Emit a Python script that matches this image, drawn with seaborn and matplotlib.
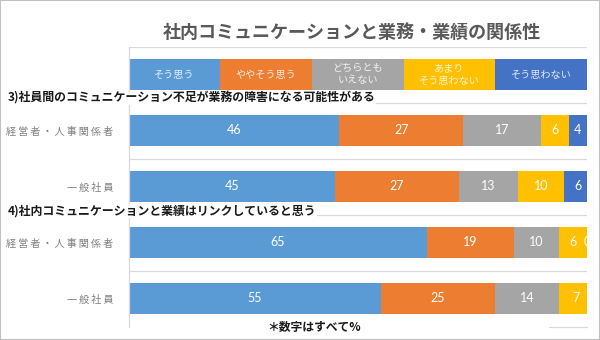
import matplotlib
matplotlib.use("Agg")
import matplotlib.pyplot as plt
import seaborn as sns
import pandas as pd
from matplotlib.patches import Rectangle

# ---------------- data ----------------
title = "社内コミュニケーションと業務・業績の関係性"
responses = ["そう思う", "ややそう思う", "どちらとも\nいえない", "あまり\nそう思わない", "そう思わない"]
colors = ["#5B9BD5", "#ED7D31", "#A5A5A5", "#FFC000", "#4472C4"]
row_ids = ["q3_mgmt", "q3_staff", "q4_mgmt", "q4_staff"]
row_labels = ["経営者・人事関係者", "一般社員", "経営者・人事関係者", "一般社員"]
sections = ["3)社員間のコミュニケーション不足が業務の障害になる可能性がある",
            "4)社内コミュニケーションと業績はリンクしていると思う"]
sou_omou = [46, 45, 65, 55]
yaya_sou_omou = [27, 27, 19, 25]
dochira_tomo = [17, 13, 10, 14]
amari = [6, 10, 6, 7]
sou_omowanai = [4, 6, 0, 0]
footnote = "＊数字はすべて%"

series = [sou_omou, yaya_sou_omou, dochira_tomo, amari, sou_omowanai]

# ---------------- figure ----------------
sns.set_theme(style="white")
plt.rcParams["font.family"] = ["Noto Sans CJK JP", "DejaVu Sans"]

W, H = 600, 340
fig = plt.figure(figsize=(W / 100, H / 100), dpi=100)
x0, x1 = 128.6, 587.0
y0, y1 = 46.5, 326.5
ax = fig.add_axes([x0 / W, 1 - y1 / H, (x1 - x0) / W, (y1 - y0) / H])

order = ["legend"] + row_ids
legend_w = 100 / len(responses)

rows = []
for r, rid in enumerate(order):
    if rid == "legend":
        vals = [legend_w] * len(responses)
    else:
        vals = [s[r - 1] for s in series]
    cum = 0
    for k, v in enumerate(vals):
        cum += v
        rows.append({"row": rid, "k": k, "val": v, "cum": cum})
df = pd.DataFrame(rows)

for k in range(len(responses) - 1, -1, -1):
    sub = df[df.k == k]
    sns.barplot(data=sub, x="cum", y="row", order=order, orient="h",
                color=colors[k], saturation=1, width=0.55, linewidth=0,
                errorbar=None, ax=ax)

ax.set_xlim(0, 100)
ax.set_ylim(len(order) - 0.5, -0.5)

# value labels and legend texts
for _, d in df.iterrows():
    yi = order.index(d.row)
    xc = d.cum - d.val / 2
    if d.row == "legend":
        ax.text(xc, yi, responses[int(d.k)], ha="center", va="center",
                color="white", alpha=0.85, fontsize=7.3, linespacing=1.25)
    else:
        ax.text(xc, yi, f"{int(d.val)}", ha="center", va="center",
                color="white", fontsize=9, family=["Lato", "DejaVu Sans"],
                clip_on=True)

# gridlines at row boundaries
grid_c = "#D9D9D9"
for b in range(len(order)):
    ax.axhline(b - 0.5, color=grid_c, lw=0.9, zorder=0)
ax.axhline(len(order) - 0.5, xmin=(549 - x0) / (x1 - x0), xmax=1,
           color=grid_c, lw=0.9, zorder=0, clip_on=False)

# axes styling
ax.set_xlabel("")
ax.set_ylabel("")
ax.set_xticks([])
ax.set_yticks(range(len(order)))
ax.set_yticklabels([""] + ["\u2009".join(l) for l in row_labels],
                   color="#7F7F7F", fontsize=7.3)
ax.tick_params(axis="y", length=0, pad=11)
for s in ["top", "right", "bottom"]:
    ax.spines[s].set_visible(False)
ax.spines["left"].set_color(grid_c)
ax.spines["left"].set_linewidth(0.9)

# title, section labels, footnote
fig.text(352 / W, 1 - 32 / H, title, ha="center", va="center",
         fontsize=13, fontweight="bold", color="#595959")
for lbl, yc in zip(sections, [98.5, 211]):
    fig.text(8 / W, 1 - yc / H, lbl, ha="left", va="center", fontsize=8.6,
             fontweight="bold", color="#1a1a1a",
             bbox=dict(facecolor="white", edgecolor="none", pad=0.3))
fig.text(314 / W, 1 - 327 / H, footnote, ha="center", va="center",
         fontsize=8.5, fontweight="bold", color="#1a1a1a")

fig.patches.append(Rectangle((0, 0), 1, 1, transform=fig.transFigure,
                             fill=False, edgecolor="#C0C0C0", lw=1.5))

fig.savefig("out.png", dpi=100)
